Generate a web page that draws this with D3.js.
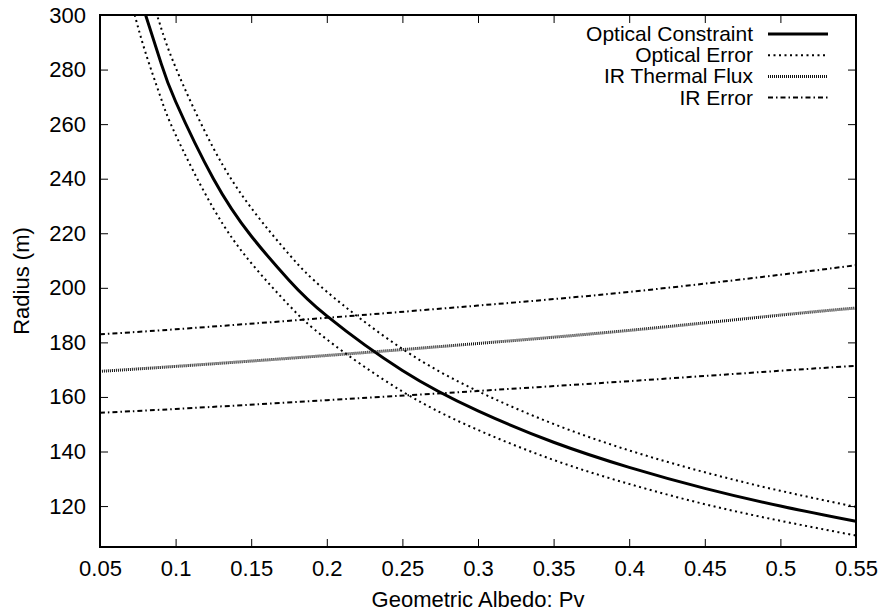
<!DOCTYPE html>
<html>
<head>
<meta charset="utf-8">
<script src="https://cdn.jsdelivr.net/npm/d3@7"></script>
<style>
  body { margin: 0; background: #fff; }
  text { font-family: "Liberation Sans", Arial, sans-serif; fill: #000; }
</style>
</head>
<body>
<svg id="chart" width="880" height="614" viewBox="0 0 880 614"></svg>
<script>
// values
const pvOptical = [0.079, 0.09, 0.1, 0.125, 0.15, 0.175, 0.2, 0.25, 0.3, 0.35, 0.4, 0.45, 0.5, 0.55];
const rOptical = [302, 283, 268.3, 240, 219, 202.8, 189.7, 169.7, 154.9, 143.4, 134.2, 126.5, 120, 114.4];

const pvOptHigh = [0.087, 0.09, 0.1, 0.125, 0.15, 0.175, 0.2, 0.25, 0.3, 0.35, 0.4, 0.45, 0.5, 0.55];
const rOptHigh = [301, 296, 280.8, 251.2, 229.3, 212.3, 198.6, 177.6, 162.1, 150.1, 140.4, 132.4, 125.6, 119.7];

const pvOptLow = [0.072, 0.08, 0.09, 0.1, 0.125, 0.15, 0.175, 0.2, 0.25, 0.3, 0.35, 0.4, 0.45, 0.5, 0.55];
const rOptLow = [302, 286.4, 270, 256.1, 229.1, 209.1, 193.6, 181.1, 162, 147.9, 136.9, 128.1, 120.7, 114.6, 109.2];

const pvIR = [0.05, 0.1, 0.2, 0.3, 0.4, 0.5, 0.55];
const rIRFlux = [169.4, 171.2, 175.2, 179.6, 184.4, 190, 192.6];
const rIRHigh = [183, 184.8, 189, 193.5, 198.5, 204.8, 208.3];
const rIRLow = [154.2, 155.6, 158.8, 162.2, 165.8, 169.6, 171.4];

const xTicks = [0.05, 0.1, 0.15, 0.2, 0.25, 0.3, 0.35, 0.4, 0.45, 0.5, 0.55];
const xTickLabels = ["0.05", "0.1", "0.15", "0.2", "0.25", "0.3", "0.35", "0.4", "0.45", "0.5", "0.55"];
const yTicks = [120, 140, 160, 180, 200, 220, 240, 260, 280, 300];

const svg = d3.select("#chart");
const margin = { top: 15, right: 24, bottom: 67, left: 100 };
const width = 880 - margin.left - margin.right;
const height = 614 - margin.top - margin.bottom;

const x = d3.scaleLinear().domain([0.05, 0.55]).range([0, width]);
const y = d3.scaleLinear().domain([105, 300]).range([height, 0]);

const g = svg.append("g").attr("transform", `translate(${margin.left},${margin.top})`);

g.append("clipPath").attr("id", "plotClip")
  .append("rect").attr("width", width).attr("height", height);

// axes, gnuplot style: inward ticks mirrored on all sides
const fontSize = 22;
const legendFont = 21;
function styleAxis(sel) {
  sel.select(".domain").remove();
  sel.selectAll(".tick line").attr("stroke", "#000").attr("stroke-width", 1);
  sel.selectAll("text").style("font-size", fontSize + "px").attr("font-family", null);
}

g.append("g")
  .attr("transform", `translate(0,${height})`)
  .call(d3.axisBottom(x).tickValues(xTicks).tickSize(-8).tickPadding(13.5)
    .tickFormat((d, i) => xTickLabels[i]))
  .call(styleAxis);

g.append("g")
  .call(d3.axisTop(x).tickValues(xTicks).tickSize(-8).tickFormat(""))
  .call(styleAxis);

g.append("g")
  .call(d3.axisLeft(y).tickValues(yTicks).tickSize(-8).tickPadding(14)
    .tickFormat(d3.format("d")))
  .call(styleAxis);

g.append("g")
  .attr("transform", `translate(${width},0)`)
  .call(d3.axisRight(y).tickValues(yTicks).tickSize(-8).tickFormat(""))
  .call(styleAxis);

// series
const series = [
  { name: "Optical Constraint", pv: pvOptical, r: rOptical, width: 3, dash: null, color: "#000" },
  { name: "Optical Error", pv: pvOptHigh, r: rOptHigh, width: 2, dash: "2,3.5", color: "#000", legend: true },
  { name: "Optical Error", pv: pvOptLow, r: rOptLow, width: 2, dash: "2,3.5", color: "#000", legend: false },
  { name: "IR Thermal Flux", pv: pvIR, r: rIRFlux, width: 3, dash: "1,1", color: "#111" },
  { name: "IR Error", pv: pvIR, r: rIRHigh, width: 2, dash: "5,3,1.5,3", color: "#000", legend: true },
  { name: "IR Error", pv: pvIR, r: rIRLow, width: 2, dash: "5,3,1.5,3", color: "#000", legend: false }
];

const line = d3.line()
  .x(d => x(d[0]))
  .y(d => y(d[1]))
  .curve(d3.curveNatural);

const plot = g.append("g").attr("clip-path", "url(#plotClip)");
series.forEach(s => {
  plot.append("path")
    .datum(s.pv.map((p, i) => [p, s.r[i]]))
    .attr("fill", "none")
    .attr("stroke", s.color)
    .attr("stroke-width", s.width)
    .attr("stroke-dasharray", s.dash)
    .attr("d", line);
});

// border
g.append("rect")
  .attr("width", width).attr("height", height)
  .attr("fill", "none").attr("stroke", "#000").attr("stroke-width", 2);

// legend
const legendItems = series.filter(s => s.legend !== false);
const legend = svg.append("g");
legendItems.forEach((s, i) => {
  const yy = 41 + i * 21.2;
  legend.append("text")
    .attr("x", 753).attr("y", yy)
    .attr("text-anchor", "end")
    .style("font-size", legendFont + "px")
    .text(s.name);
  legend.append("line")
    .attr("x1", 768).attr("x2", 828)
    .attr("y1", yy - 7).attr("y2", yy - 7)
    .attr("stroke", s.color)
    .attr("stroke-width", s.width)
    .attr("stroke-dasharray", s.dash);
});

// axis titles
svg.append("text")
  .attr("x", margin.left + width / 2).attr("y", 607)
  .attr("text-anchor", "middle")
  .style("font-size", fontSize + "px")
  .text("Geometric Albedo: Pv");

svg.append("text")
  .attr("transform", `translate(29,${margin.top + height / 2}) rotate(-90)`)
  .attr("text-anchor", "middle")
  .style("font-size", fontSize + "px")
  .text("Radius (m)");
</script>
</body>
</html>
